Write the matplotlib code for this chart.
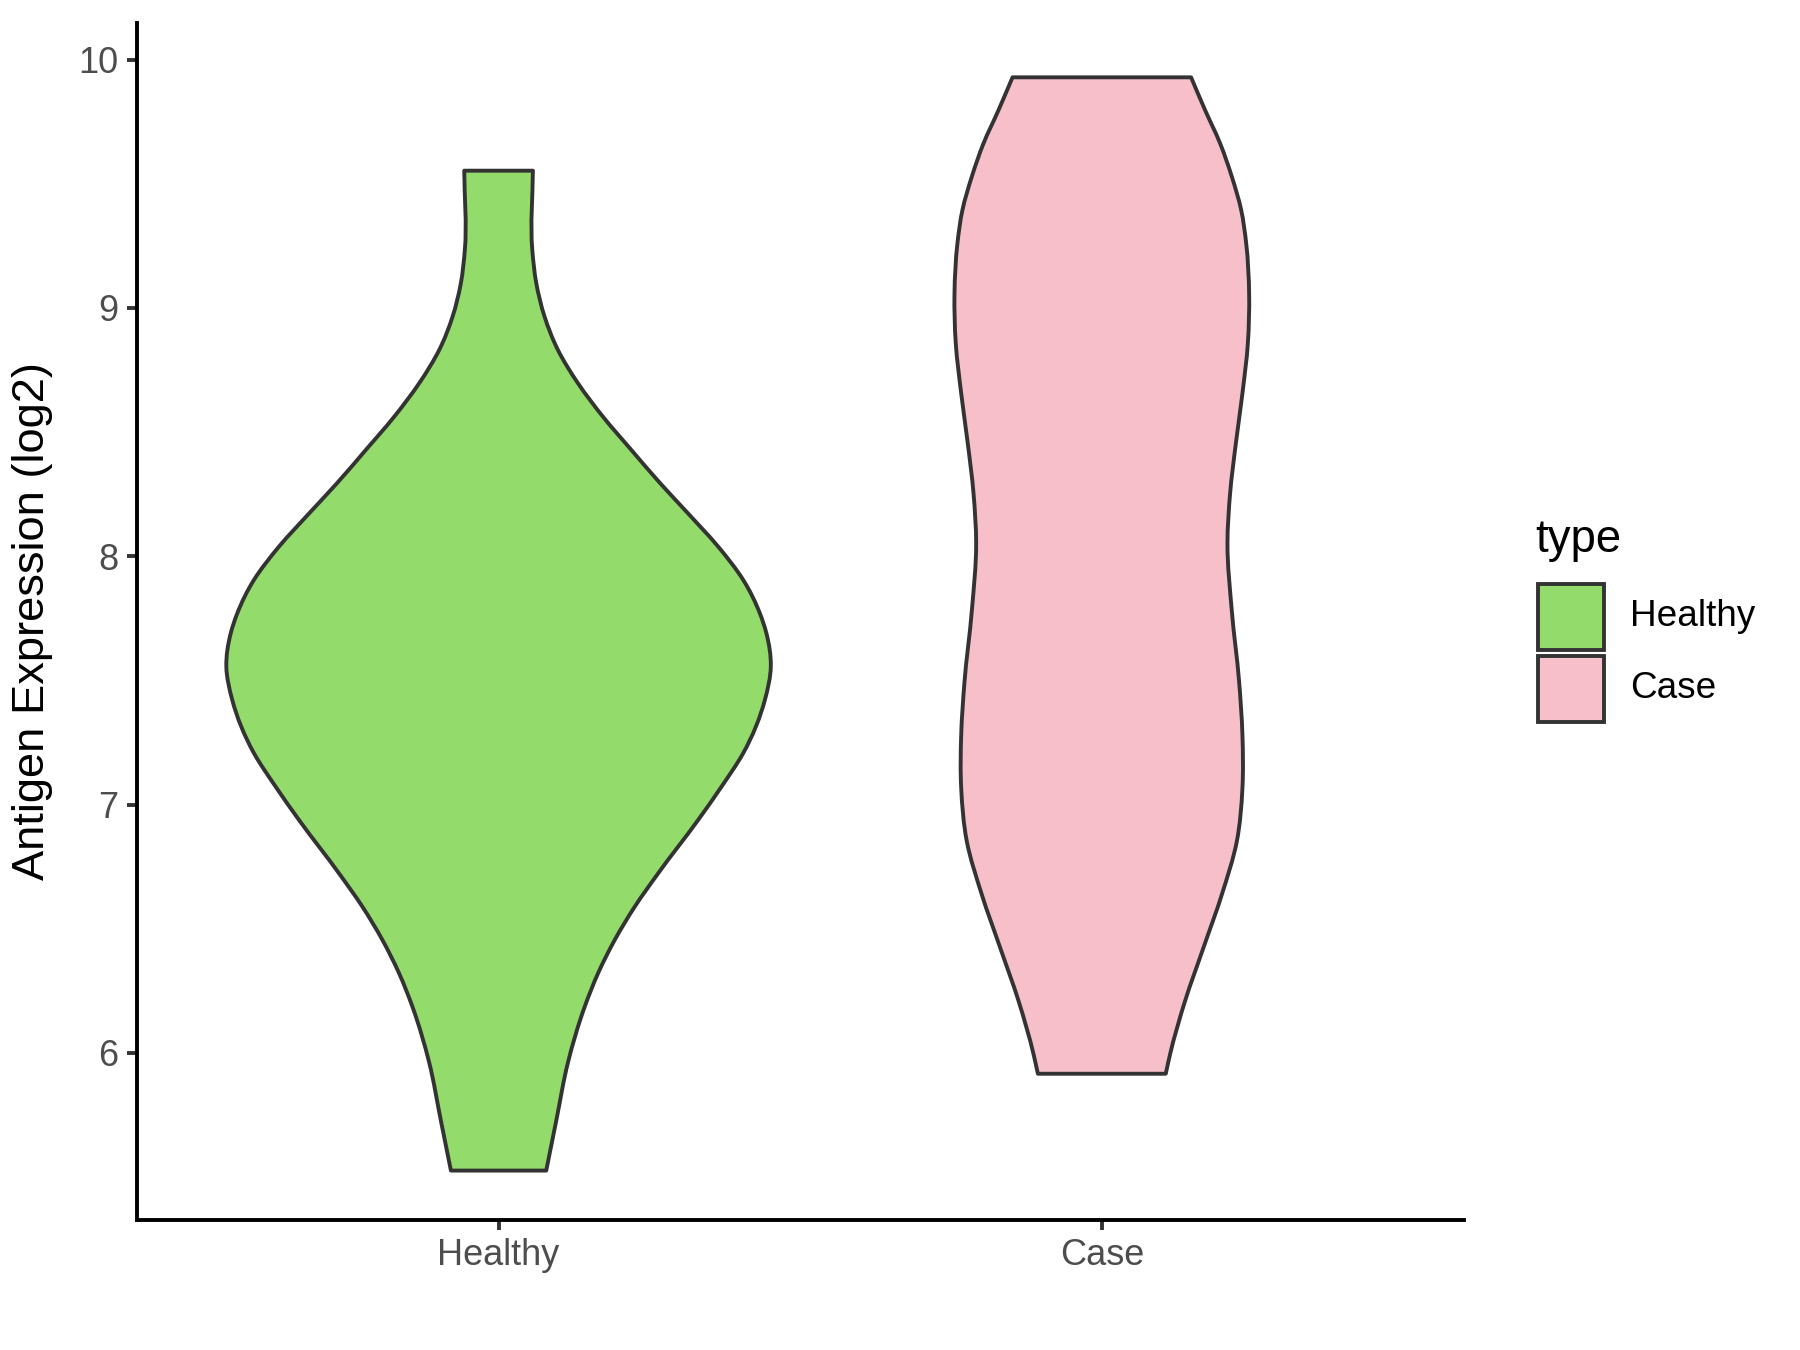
import numpy as np
import matplotlib
matplotlib.use("Agg")
import matplotlib.pyplot as plt
from matplotlib.path import Path
from matplotlib.patches import PathPatch, Rectangle

# violin outlines: expression level -> half width (category units)
categories = ["Healthy", "Case"]
colors = ["#93DB6B", "#F7BFCA"]

healthy_y = [9.553, 9.234, 9.099, 8.965, 8.831, 8.697, 8.562, 8.428, 8.294, 8.173, 8.039,
             7.905, 7.770, 7.690, 7.556, 7.421, 7.207, 7.072, 6.938, 6.723, 6.589,
             6.455, 6.321, 6.186, 5.961, 5.728, 5.526]
healthy_w = [0.0569, 0.0559, 0.0626, 0.0763, 0.0984, 0.1316, 0.1731, 0.2202, 0.268, 0.314,
             0.364, 0.4055, 0.4332, 0.444, 0.4513, 0.4414, 0.4055, 0.3695, 0.3308, 0.2645,
             0.2258, 0.1926, 0.165, 0.1428, 0.115, 0.0957, 0.079]

case_y = [9.929, 9.797, 9.663, 9.529, 9.395, 9.261, 9.059, 8.858, 8.656, 8.455, 8.254,
          8.052, 7.78, 7.495, 7.28, 7.066, 6.852, 6.638, 6.423, 6.209, 5.995, 5.916]
case_w = [0.148, 0.1712, 0.1961, 0.2155, 0.231, 0.2393, 0.2442, 0.2421, 0.2331, 0.2222, 0.2127,
          0.2083, 0.2155, 0.2276, 0.2331, 0.2331, 0.2238, 0.199, 0.1684, 0.138, 0.1132, 0.106]

profiles = [(healthy_y, healthy_w), (case_y, case_w)]

plt.rcParams['font.family'] = ['Liberation Sans', 'DejaVu Sans']

fig = plt.figure(figsize=(9, 6.75), dpi=200)
ax = fig.add_axes([0.0759, 0.0963, 0.7373, 0.8867])


def smooth_side(xs, ys):
    # hermite segments in y (x as a function of y) so the outline is drawn smooth
    xs = np.asarray(xs, float)
    ys = np.asarray(ys, float)
    m = np.gradient(xs, ys)
    verts, codes = [], []
    for i in range(len(xs) - 1):
        h = ys[i + 1] - ys[i]
        c1 = (xs[i] + m[i] * h / 3, ys[i] + h / 3)
        c2 = (xs[i + 1] - m[i + 1] * h / 3, ys[i + 1] - h / 3)
        verts += [c1, c2, (xs[i + 1], ys[i + 1])]
        codes += [Path.CURVE4] * 3
    return verts, codes


for i, (ys, ws) in enumerate(profiles):
    pos = i + 1
    ys = np.array(ys)
    ws = np.array(ws)
    rx = pos + ws
    lx = (pos - ws)[::-1]
    rv, rc = smooth_side(rx, ys)
    lv, lc = smooth_side(lx, ys[::-1])
    verts = [(rx[0], ys[0])] + rv + [(lx[0], ys[-1])] + lv + [(rx[0], ys[0])]
    codes = [Path.MOVETO] + rc + [Path.LINETO] + lc + [Path.CLOSEPOLY]
    patch = PathPatch(Path(verts, codes), facecolor=colors[i], edgecolor="#333333",
                      linewidth=1.4, joinstyle="round", zorder=2)
    ax.add_patch(patch)

ax.set_xlim(0.4, 2.6)
ax.set_ylim(5.327, 10.148)
ax.set_xticks([1, 2])
ax.set_xticklabels(categories)
ax.set_yticks([6, 7, 8, 9, 10])
for s in ["top", "right"]:
    ax.spines[s].set_visible(False)
for s in ["left", "bottom"]:
    ax.spines[s].set_linewidth(1.4)
    ax.spines[s].set_color("black")
ax.tick_params(axis="both", length=3.5, width=1.4, color="#333333",
               labelcolor="#4D4D4D", labelsize=13, pad=3)
ax.set_ylabel("Antigen Expression (log2)", fontsize=16.3, color="black", labelpad=9)

# legend drawn by hand
fig.text(0.853, 0.600, "type", fontsize=16.4, va="center", ha="left")
box_y = [0.5185, 0.4652]
for i, cat in enumerate(categories):
    fig.patches.append(Rectangle((0.8544, box_y[i]), 0.0367, 0.0489, transform=fig.transFigure,
                                 facecolor=colors[i], edgecolor="#333333", linewidth=1.4))
    fig.text(0.9056, box_y[i] + 0.0245, cat, fontsize=13.3, va="center", ha="left")

fig.savefig("out.png", dpi=200)
